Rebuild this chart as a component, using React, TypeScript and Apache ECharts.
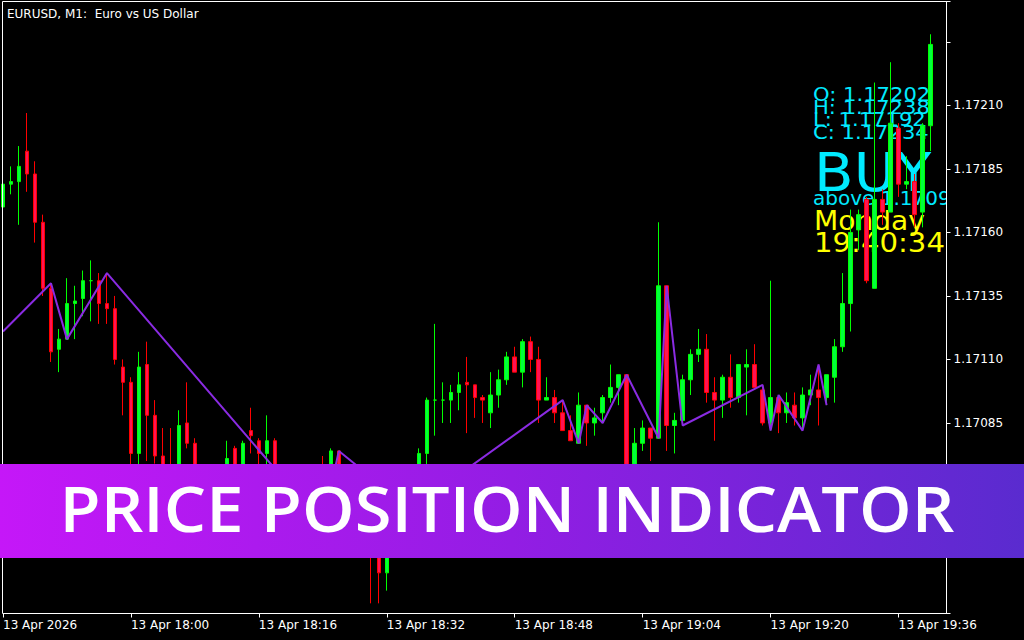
import React, { useEffect, useRef } from "react";
import * as echarts from "echarts";

// ---------- texts ----------
const symbolTitle = "EURUSD, M1:  Euro vs US Dollar";
const bannerTitle = "PRICE POSITION INDICATOR";
const infoLines = ["O: 1.17202", "H: 1.17238", "L: 1.17192", "C: 1.17234"];
const signalText = "BUY";
const signalLevel = "above 1.17097";
const dayText = "Monday";
const clockText = "19:40:34";

// ---------- axes ----------
const startHour = 17;
const startMinute = 44;
const categoryCount = 119; // 17:44 .. 19:42 (M1 bars)
const xTickLabels = [
  "13 Apr 2026",
  "13 Apr 18:00",
  "13 Apr 18:16",
  "13 Apr 18:32",
  "13 Apr 18:48",
  "13 Apr 19:04",
  "13 Apr 19:20",
  "13 Apr 19:36",
];
const priceBase = 1.1701; // bottom of the price scale
const priceTop = 1.172509; // top of the price scale
const yTickLabels = ["1.17035", "1.17060", "1.17085", "1.17110", "1.17135", "1.17160", "1.17185", "1.17210"];

// ---------- candles (M1) ----------
const opens = [
  1.1717, 1.17179, 1.1718, 1.17192, 1.17183, 1.17164, 1.17138, 1.17114, 1.17118, 1.17132,
  1.17134, 1.17141, 1.17141, 1.17132, 1.1713, 1.17107, 1.17101, 1.17073, 1.17108, 1.17088,
  1.17072, 1.17066, 1.17054, 1.17085, 1.17077, 1.17058, 1.17049, 1.17056, 1.17052, 1.17075,
  1.17058, 1.17082, 1.17078, 1.17073, 1.17078, 1.17054, 1.17049, 1.17052, 1.17047, 1.17051,
  1.17058, 1.17049, 1.17074, 1.17056, 1.17047, 1.17041, 1.1704, 1.17035, 1.17026, 1.17034,
  1.17043, 1.1705, 1.17058, 1.17073, 1.17094, 1.17094, 1.17094, 1.17097, 1.17101, 1.171,
  1.17095, 1.17089, 1.17096, 1.17102, 1.17111, 1.17105, 1.17117, 1.1711, 1.17094, 1.17095,
  1.17089, 1.17082, 1.17077, 1.17092, 1.17085, 1.17089, 1.17095, 1.17099, 1.17104, 1.17064,
  1.17077, 1.17083, 1.17079, 1.17139, 1.17084, 1.17086, 1.17102, 1.17112, 1.17114, 1.17097,
  1.17094, 1.17103, 1.17095, 1.17107, 1.17108, 1.17098, 1.17085, 1.17095, 1.17089, 1.17092,
  1.17087, 1.17096, 1.17098, 1.17095, 1.17103, 1.17115, 1.17132, 1.17161, 1.17173, 1.17138,
  1.17173, 1.17168, 1.17201, 1.17179, 1.1718, 1.17168, 1.17202,
];
const highs = [
  1.1718, 1.17186, 1.17194, 1.17207, 1.17188, 1.17167, 1.1714, 1.17122, 1.17142, 1.17139,
  1.17145, 1.17149, 1.17144, 1.17144, 1.17135, 1.1711, 1.17103, 1.17113, 1.17117, 1.17094,
  1.17083, 1.17083, 1.1709, 1.17101, 1.17079, 1.17062, 1.1706, 1.17064, 1.17078, 1.17076,
  1.17078, 1.17091, 1.17079, 1.17088, 1.17079, 1.17056, 1.17054, 1.17055, 1.17052, 1.17054,
  1.17072, 1.17075, 1.17074, 1.17058, 1.1705, 1.17043, 1.17043, 1.17039, 1.17039, 1.17047,
  1.17052, 1.1706, 1.17075, 1.17095, 1.17124, 1.17101, 1.171, 1.17105, 1.17111, 1.171,
  1.17096, 1.17105, 1.17106, 1.17113, 1.17115, 1.17118, 1.17119, 1.17115, 1.17103, 1.17098,
  1.17094, 1.17088, 1.17097, 1.17092, 1.17091, 1.17096, 1.17108, 1.17104, 1.17104, 1.17083,
  1.17086, 1.17083, 1.17164, 1.17139, 1.17089, 1.17104, 1.17114, 1.17122, 1.1712, 1.17103,
  1.17104, 1.17112, 1.17108, 1.17114, 1.17116, 1.171, 1.17141, 1.17096, 1.17097, 1.17097,
  1.17099, 1.17104, 1.17108, 1.17104, 1.17118, 1.17144, 1.17169, 1.17169, 1.17174, 1.17219,
  1.17177, 1.17227, 1.17203, 1.1719, 1.17183, 1.17203, 1.17238,
];
const lows = [
  1.17169, 1.17175, 1.17163, 1.17176, 1.17156, 1.17135, 1.17109, 1.17105, 1.17118, 1.17118,
  1.17127, 1.17125, 1.17124, 1.17124, 1.17108, 1.17088, 1.17066, 1.17066, 1.1707, 1.17069,
  1.17056, 1.17051, 1.17051, 1.17075, 1.17054, 1.17045, 1.17047, 1.1705, 1.17051, 1.17055,
  1.17056, 1.17073, 1.17066, 1.17066, 1.17051, 1.17046, 1.17047, 1.17046, 1.17047, 1.17046,
  1.17045, 1.17047, 1.17052, 1.17045, 1.17039, 1.17034, 1.17014, 1.17014, 1.17019, 1.17032,
  1.17041, 1.17048, 1.17056, 1.17066, 1.1708, 1.17085, 1.17085, 1.1709, 1.17081, 1.17087,
  1.17085, 1.17083, 1.17091, 1.171, 1.17105, 1.17099, 1.17105, 1.17085, 1.17094, 1.17085,
  1.17082, 1.17078, 1.17077, 1.17076, 1.1708, 1.17085, 1.17093, 1.17092, 1.17062, 1.17062,
  1.17074, 1.1707, 1.17079, 1.17074, 1.17073, 1.17084, 1.17096, 1.17109, 1.17093, 1.17078,
  1.17087, 1.17091, 1.17093, 1.17088, 1.17099, 1.17084, 1.17082, 1.17081, 1.17085, 1.17084,
  1.17082, 1.17092, 1.17084, 1.17092, 1.17093, 1.17113, 1.17121, 1.17153, 1.1714, 1.17138,
  1.17163, 1.17168, 1.17174, 1.17177, 1.17162, 1.17162, 1.17192,
];
const closes = [
  1.17179, 1.1718, 1.17186, 1.17183, 1.17164, 1.17138, 1.17113, 1.17118, 1.17132, 1.17133,
  1.17141, 1.17141, 1.17132, 1.1713, 1.1711, 1.17101, 1.17073, 1.17107, 1.17088, 1.17072,
  1.1706, 1.17054, 1.17084, 1.17077, 1.17058, 1.17049, 1.17056, 1.17052, 1.17071, 1.17058,
  1.17077, 1.1708, 1.17073, 1.17078, 1.17054, 1.17049, 1.17052, 1.17047, 1.17051, 1.17047,
  1.17049, 1.17074, 1.17056, 1.17047, 1.17041, 1.17037, 1.17036, 1.17026, 1.17035, 1.17043,
  1.17049, 1.17058, 1.17073, 1.17094, 1.17094, 1.17094, 1.17097, 1.171, 1.171, 1.17095,
  1.17094, 1.17096, 1.17102, 1.17111, 1.17105, 1.17117, 1.1711, 1.17094, 1.17095, 1.17089,
  1.17082, 1.17078, 1.17092, 1.17085, 1.17087, 1.17095, 1.17099, 1.17104, 1.17064, 1.17077,
  1.17083, 1.17079, 1.17139, 1.17084, 1.17086, 1.17102, 1.17112, 1.17114, 1.17097, 1.17094,
  1.17103, 1.17095, 1.17108, 1.17108, 1.17099, 1.17085, 1.17095, 1.17089, 1.17093, 1.17087,
  1.17096, 1.17098, 1.17095, 1.17104, 1.17115, 1.17132, 1.1716, 1.17167, 1.17141, 1.17173,
  1.17168, 1.17203, 1.17179, 1.1718, 1.17167, 1.17202, 1.17234,
];

// ---------- zigzag (purple) vertices ----------
const zigzagBars = [0, 6, 8, 13, 40, 42, 51, 70, 72, 73, 75, 78, 82, 83, 85, 95, 96, 97, 100, 102, 103];
const zigzagPrices = [
  1.17121, 1.1714, 1.17118, 1.17144, 1.17045, 1.17074, 1.17051, 1.17094, 1.17077, 1.17092,
  1.17085, 1.17104, 1.17079, 1.17139, 1.17084, 1.171, 1.17082, 1.17096, 1.17082, 1.17108,
  1.17092,
];

const toPts = (p: number) => Math.round((p - priceBase) * 1e6) / 10;

function buildOption() {
  const categories: string[] = [];
  for (let i = 0; i < categoryCount; i++) {
    const m = startHour * 60 + startMinute + i;
    const hh = String(Math.floor(m / 60)).padStart(2, "0");
    const mm = String(m % 60).padStart(2, "0");
    categories.push(hh + ":" + mm);
  }
  const candleData = opens.map((o, i) => [toPts(o), toPts(closes[i]), toPts(lows[i]), toPts(highs[i])]);
  const zigzag: (number | null)[] = new Array(categoryCount).fill(null);
  zigzagBars.forEach((b, k) => {
    zigzag[b] = toPts(zigzagPrices[k]);
  });

  const infoFont = "DejaVu Sans, Verdana, sans-serif";
  const infoY = [94.5, 107, 119.5, 132.5];

  const graphics: any[] = [
    // plot frame (left & top)
    { type: "line", z: 10, silent: true, shape: { x1: 2.5, y1: 1.5, x2: 946.5, y2: 1.5 }, style: { stroke: "#ffffff", lineWidth: 1 } },
    { type: "line", z: 10, silent: true, shape: { x1: 2.5, y1: 1.5, x2: 2.5, y2: 613.5 }, style: { stroke: "#ffffff", lineWidth: 1 } },
    {
      type: "text", z: 10, silent: true, x: 7, y: 13.5,
      style: { text: symbolTitle, fill: "#ffffff", font: "12px DejaVu Sans, sans-serif", verticalAlign: "middle", align: "left" },
    },
    ...infoLines.map((t, i) => ({
      type: "text", z: 1, silent: true, x: 813, y: infoY[i], scaleX: 1.055,
      style: { text: t, fill: "#00eaff", font: `20px ${infoFont}`, verticalAlign: "middle", align: "left" },
    })),
    {
      type: "text", z: 1, silent: true, x: 814, y: 172, scaleX: 1.07,
      style: { text: signalText, fill: "#00eaff", font: `54px ${infoFont}`, verticalAlign: "middle", align: "left" },
    },
    {
      type: "text", z: 1, silent: true, x: 813, y: 197.5,
      style: { text: signalLevel, fill: "#00eaff", font: `20px ${infoFont}`, verticalAlign: "middle", align: "left" },
    },
    {
      type: "text", z: 1, silent: true, x: 814, y: 220, scaleX: 1.04,
      style: { text: dayText, fill: "#ffff00", font: `27px ${infoFont}`, verticalAlign: "middle", align: "left" },
    },
    {
      type: "text", z: 1, silent: true, x: 814, y: 243, scaleX: 1.08,
      style: { text: clockText, fill: "#ffff00", font: `27px ${infoFont}`, verticalAlign: "middle", align: "left" },
    },
    // clip overflowing text at the price scale
    { type: "rect", z: 3, silent: true, shape: { x: 947, y: 0, width: 77, height: 300 }, style: { fill: "#000000" } },
    // banner
    {
      type: "rect", z: 50, silent: true, shape: { x: 0, y: 464, width: 1024, height: 94 },
      style: {
        fill: {
          type: "linear", x: 0, y: 0, x2: 1, y2: 0,
          colorStops: [
            { offset: 0, color: "#c517f8" },
            { offset: 0.5, color: "#931de4" },
            { offset: 1, color: "#5a2bcf" },
          ],
        },
      },
    },
    {
      type: "text", z: 51, silent: true, x: 507, y: 508, scaleX: 1.062,
      style: { text: bannerTitle, fill: "#ffffff", font: "600 63px 'Open Sans', sans-serif", align: "center", verticalAlign: "middle" },
    },
  ];

  return {
    animation: false,
    backgroundColor: "#000000",
    grid: { left: 2.5, right: 77.5, top: 1.5, bottom: 26.5, containLabel: false },
    xAxis: {
      type: "category",
      data: categories,
      boundaryGap: false,
      z: 10,
      axisLine: { show: true, lineStyle: { color: "#ffffff", width: 1 } },
      axisTick: { show: true, interval: 15, length: 4, lineStyle: { color: "#ffffff" } },
      axisLabel: {
        interval: 15,
        align: "left",
        margin: 5,
        color: "#ffffff",
        fontFamily: "DejaVu Sans, sans-serif",
        fontSize: 12,
        formatter: (_v: string, idx: number) => xTickLabels[Math.round(idx / 16)] ?? "",
      },
      splitLine: { show: false },
    },
    yAxis: {
      type: "value",
      position: "right",
      min: 0,
      max: toPts(priceTop),
      interval: 25,
      z: 10,
      axisLine: { show: true, lineStyle: { color: "#ffffff", width: 1 } },
      axisTick: { show: true, inside: false, length: 4, lineStyle: { color: "#ffffff" } },
      axisLabel: {
        margin: 7,
        color: "#ffffff",
        fontFamily: "DejaVu Sans, sans-serif",
        fontSize: 12,
        formatter: (v: number) => {
          const s = (priceBase + v / 1e5).toFixed(5);
          return yTickLabels.includes(s) ? s : "";
        },
      },
      splitLine: { show: false },
    },
    series: [
      {
        type: "candlestick",
        z: 2,
        barWidth: 4,
        clip: true,
        data: candleData,
        itemStyle: {
          color: "#00ff3c",
          color0: "#ff1254",
          borderColor: "#00ff00",
          borderColor0: "#ff0000",
          borderWidth: 1,
        },
      },
      {
        type: "line",
        z: 3,
        data: zigzag,
        connectNulls: true,
        showSymbol: false,
        symbol: "none",
        clip: true,
        lineStyle: { color: "#8a2be2", width: 2 },
      },
    ],
    graphic: { elements: graphics },
  };
}

export default function App() {
  const ref = useRef<HTMLDivElement>(null);
  useEffect(() => {
    if (!ref.current) return;
    const chart = echarts.init(ref.current, null, { renderer: "svg" });
    chart.setOption(buildOption() as any);
    return () => chart.dispose();
  }, []);
  return (
    <div
      ref={ref}
      style={{ position: "fixed", left: 0, top: 0, width: 1024, height: 640, background: "#000" }}
    />
  );
}
